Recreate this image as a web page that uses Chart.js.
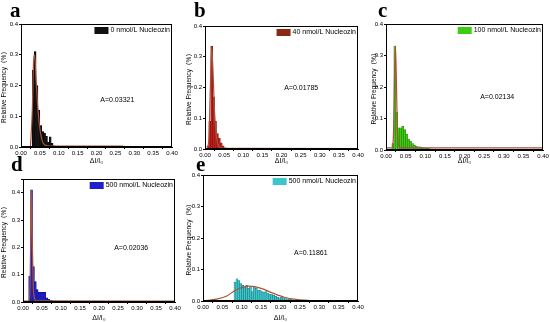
<!DOCTYPE html>
<html>
<head>
<meta charset="utf-8">
<script src="https://cdn.jsdelivr.net/npm/chart.js@4.4.1/dist/chart.umd.min.js"></script>
<style>
  body { margin: 0; background: #fff; width: 550px; height: 322px; overflow: hidden; position: relative; }
  canvas { position: absolute; }
  .lbl { position: absolute; font: bold 21px "Liberation Serif", serif; line-height: 1; color: #000; }
</style>
</head>
<body>
<canvas id="pa" width="185" height="165" style="left:0;top:0"></canvas>
<canvas id="pb" width="185" height="165" style="left:185px;top:0"></canvas>
<canvas id="pc" width="180" height="165" style="left:370px;top:0"></canvas>
<canvas id="pd" width="185" height="162" style="left:0;top:160px"></canvas>
<canvas id="pe" width="185" height="162" style="left:185px;top:160px"></canvas>
<div class="lbl" style="left:10px;top:0">a</div>
<div class="lbl" style="left:194px;top:0">b</div>
<div class="lbl" style="left:378px;top:0">c</div>
<div class="lbl" style="left:11px;top:154px">d</div>
<div class="lbl" style="left:196px;top:154px">e</div>
<script>
// bin centres (ΔI/I0) and relative frequency
const aX = [0.0325, 0.0375, 0.0425, 0.0475, 0.0525, 0.0575, 0.0625, 0.0675, 0.0725, 0.0775, 0.0825, 0.0875, 0.1225, 0.2725];
const aY = [0.25, 0.31, 0.20, 0.12, 0.07, 0.05, 0.045, 0.035, 0.015, 0.033, 0.012, 0.004, 0.003, 0.003];
const aFitX = [0.025, 0.03, 0.033, 0.036, 0.04, 0.045, 0.05, 0.055, 0.06, 0.07, 0.08, 0.27];
const aFitY = [0, 0.12, 0.27, 0.30, 0.22, 0.12, 0.06, 0.025, 0.01, 0.004, 0.003, 0.003];

const bX = [0.0075, 0.0125, 0.0175, 0.0225, 0.0275, 0.0325, 0.0375, 0.0425, 0.0475, 0.0525];
const bY = [0.01, 0.09, 0.335, 0.17, 0.09, 0.05, 0.035, 0.02, 0.01, 0.004];
const bFitX = [0.005, 0.01, 0.014, 0.0175, 0.021, 0.025, 0.03, 0.035, 0.04, 0.05, 0.4];
const bFitY = [0, 0.03, 0.2, 0.33, 0.25, 0.12, 0.04, 0.012, 0.005, 0.002, 0.001];

const cX = [0.0175, 0.0225, 0.0275, 0.0325, 0.0375, 0.0425, 0.0475, 0.0525, 0.0575, 0.0625, 0.0675, 0.0725, 0.0775, 0.0825, 0.0875, 0.0925, 0.0975, 0.1025, 0.1075, 0.1125, 0.1175, 0.1225];
const cY = [0.02, 0.33, 0.12, 0.07, 0.07, 0.075, 0.065, 0.05, 0.035, 0.028, 0.02, 0.015, 0.012, 0.01, 0.01, 0.008, 0.007, 0.006, 0.005, 0.004, 0.003, 0.002];
const cFitX = [0, 0.015, 0.019, 0.022, 0.024, 0.026, 0.029, 0.033, 0.04, 0.4];
const cFitY = [0.007, 0.007, 0.05, 0.25, 0.33, 0.25, 0.06, 0.012, 0.007, 0.007];

const dX = [0.0175, 0.0225, 0.0275, 0.0325, 0.0375, 0.0425, 0.0475, 0.0525, 0.0575, 0.0625, 0.0675, 0.0725, 0.0775, 0.0825, 0.0875, 0.0925, 0.1025];
const dY = [0.095, 0.41, 0.13, 0.075, 0.045, 0.035, 0.035, 0.035, 0.035, 0.015, 0.01, 0.006, 0.004, 0.003, 0.002, 0.002, 0.001];
const dFitX = [0, 0.015, 0.018, 0.02, 0.022, 0.024, 0.027, 0.03, 0.035, 0.4];
const dFitY = [0.003, 0.003, 0.03, 0.2, 0.41, 0.25, 0.06, 0.015, 0.004, 0.003];

const eX = [0.0825, 0.0875, 0.0925, 0.0975, 0.1025, 0.1075, 0.1125, 0.1175, 0.1225, 0.1275, 0.1325, 0.1375, 0.1425, 0.1475, 0.1525, 0.1575, 0.1625, 0.1675, 0.1725, 0.1775, 0.1825, 0.1875, 0.1925, 0.1975, 0.2025, 0.2075, 0.2125, 0.2175, 0.2225, 0.2275, 0.2325, 0.2375, 0.2425, 0.2525, 0.2625];
const eY = [0.06, 0.07, 0.065, 0.055, 0.05, 0.045, 0.05, 0.04, 0.045, 0.03, 0.045, 0.04, 0.035, 0.035, 0.03, 0.028, 0.03, 0.025, 0.022, 0.02, 0.018, 0.015, 0.012, 0.01, 0.012, 0.01, 0.008, 0.007, 0.006, 0.005, 0.004, 0.003, 0.003, 0.002, 0.001];
const eFitX = [0, 0.03, 0.06, 0.085, 0.12, 0.15, 0.18, 0.21, 0.24, 0.27, 0.3, 0.4];
const eFitY = [0, 0.005, 0.015, 0.035, 0.047, 0.04, 0.025, 0.012, 0.005, 0.002, 0, 0];

const xTitle = 'ΔI/I₀';
const yTitle = 'Relative Frequency（%）';

// frame, in-plot legend and the "A=" note
const panelDecor = {
  id: 'panelDecor',
  afterDraw(chart, args, opts) {
    const { ctx, chartArea: a, scales } = chart;
    ctx.save();
    ctx.strokeStyle = '#000';
    ctx.lineWidth = 1;
    ctx.strokeRect(a.left + 0.5, a.top + 0.5, a.width - 1, a.height - 1);
    ctx.font = '7px "Liberation Sans", Arial';
    ctx.textBaseline = 'middle';
    const label = chart.data.datasets[0].label;
    const tw = ctx.measureText(label).width;
    const tx = a.right - 2 - tw;
    ctx.fillStyle = opts.swatch;
    ctx.fillRect(tx - 16, a.top + 3, 14, 7);
    ctx.fillStyle = '#000';
    ctx.fillText(label, tx, a.top + 6.5);
    ctx.fillText(opts.note, scales.x.getPixelForValue(opts.noteX), scales.y.getPixelForValue(opts.noteY));
    ctx.restore();
  }
};

function toPts(xs, ys) {
  return xs.map((x, i) => ({ x: x, y: ys[i] }));
}

function makePanel(id, p) {
  new Chart(document.getElementById(id), {
    data: {
      datasets: [{
        type: 'bar',
        label: p.label,
        data: toPts(p.x, p.y),
        backgroundColor: p.fill,
        borderColor: p.edge,
        borderWidth: 0.5,
        barPercentage: 1,
        categoryPercentage: 1,
        order: 2
      }, {
        type: 'line',
        label: 'fit',
        data: toPts(p.fitX, p.fitY),
        borderColor: '#a8523a',
        borderWidth: 1.2,
        pointRadius: 0,
        cubicInterpolationMode: 'monotone',
        order: 1
      }]
    },
    options: {
      responsive: false,
      animation: false,
      layout: { padding: p.pad },
      scales: {
        x: {
          type: 'linear', min: 0, max: 0.4, offset: false,
          ticks: { stepSize: 0.05, autoSkip: false, maxRotation: 0, padding: 1, color: '#000',
                   font: { size: 6, family: 'Liberation Sans' }, callback: v => v.toFixed(2) },
          grid: { display: true, drawOnChartArea: false, tickLength: 2, color: '#000' },
          border: { color: '#000' },
          title: { display: true, text: xTitle, color: '#000', padding: 0, font: { size: 7, family: 'Liberation Sans' } },
          afterFit(s) { s.height = p.xh; }
        },
        y: {
          min: 0, max: p.ymax,
          ticks: { stepSize: 0.1, padding: 1, color: '#000',
                   font: { size: 6, family: 'Liberation Sans' },
                   callback: v => (v > 0.401 ? '' : v.toFixed(1)) },
          grid: { display: true, drawOnChartArea: false, tickLength: 2, color: '#000' },
          border: { color: '#000' },
          title: { display: true, text: yTitle, color: '#000', padding: 0, font: { size: 6.5, family: 'Liberation Sans, Noto Sans CJK SC' } },
          afterFit(s) { s.width = p.yw; }
        }
      },
      plugins: {
        legend: { display: false },
        tooltip: { enabled: false },
        panelDecor: { swatch: p.swatch, note: p.note, noteX: p.noteX, noteY: p.noteY }
      }
    },
    plugins: [panelDecor]
  });
}

makePanel('pa', { label: '0 nmol/L Nucleozin', x: aX, y: aY, fitX: aFitX, fitY: aFitY,
  fill: '#141414', edge: '#000', swatch: '#111', note: 'A=0.03321', noteX: 0.21, noteY: 0.153,
  ymax: 0.4, yw: 21, xh: 18, pad: { left: 0, top: 24, right: 13, bottom: 0 } });
makePanel('pb', { label: '40 nmol/L Nucleozin', x: bX, y: bY, fitX: bFitX, fitY: bFitY,
  fill: '#c81a1a', edge: '#6b1a10', swatch: '#8b2a12', note: 'A=0.01785', noteX: 0.207, noteY: 0.198,
  ymax: 0.4, yw: 20, xh: 16, pad: { left: 0, top: 26, right: 12, bottom: 0 } });
makePanel('pc', { label: '100 nmol/L Nucleozin', x: cX, y: cY, fitX: cFitX, fitY: cFitY,
  fill: '#3ccc14', edge: '#2a7a10', swatch: '#3ccc14', note: 'A=0.02134', noteX: 0.24, noteY: 0.168,
  ymax: 0.4, yw: 16, xh: 15, pad: { left: 0, top: 24, right: 7, bottom: 0 } });
makePanel('pd', { label: '500 nmol/L Nucleozin', x: dX, y: dY, fitX: dFitX, fitY: dFitY,
  fill: '#1f1fcf', edge: '#10106a', swatch: '#1f1fcf', note: 'A=0.02036', noteX: 0.24, noteY: 0.197,
  ymax: 0.45, yw: 23, xh: 20, pad: { left: 0, top: 19, right: 10, bottom: 0 } });
makePanel('pe', { label: '500 nmol/L Nucleozin', x: eX, y: eY, fitX: eFitX, fitY: eFitY,
  fill: '#3cc6c8', edge: '#1b6f7a', swatch: '#3cc6c8', note: 'A=0.11861', noteX: 0.235, noteY: 0.152,
  ymax: 0.4, yw: 18, xh: 21, pad: { left: 0, top: 15, right: 12, bottom: 0 } });
</script>
</body>
</html>
